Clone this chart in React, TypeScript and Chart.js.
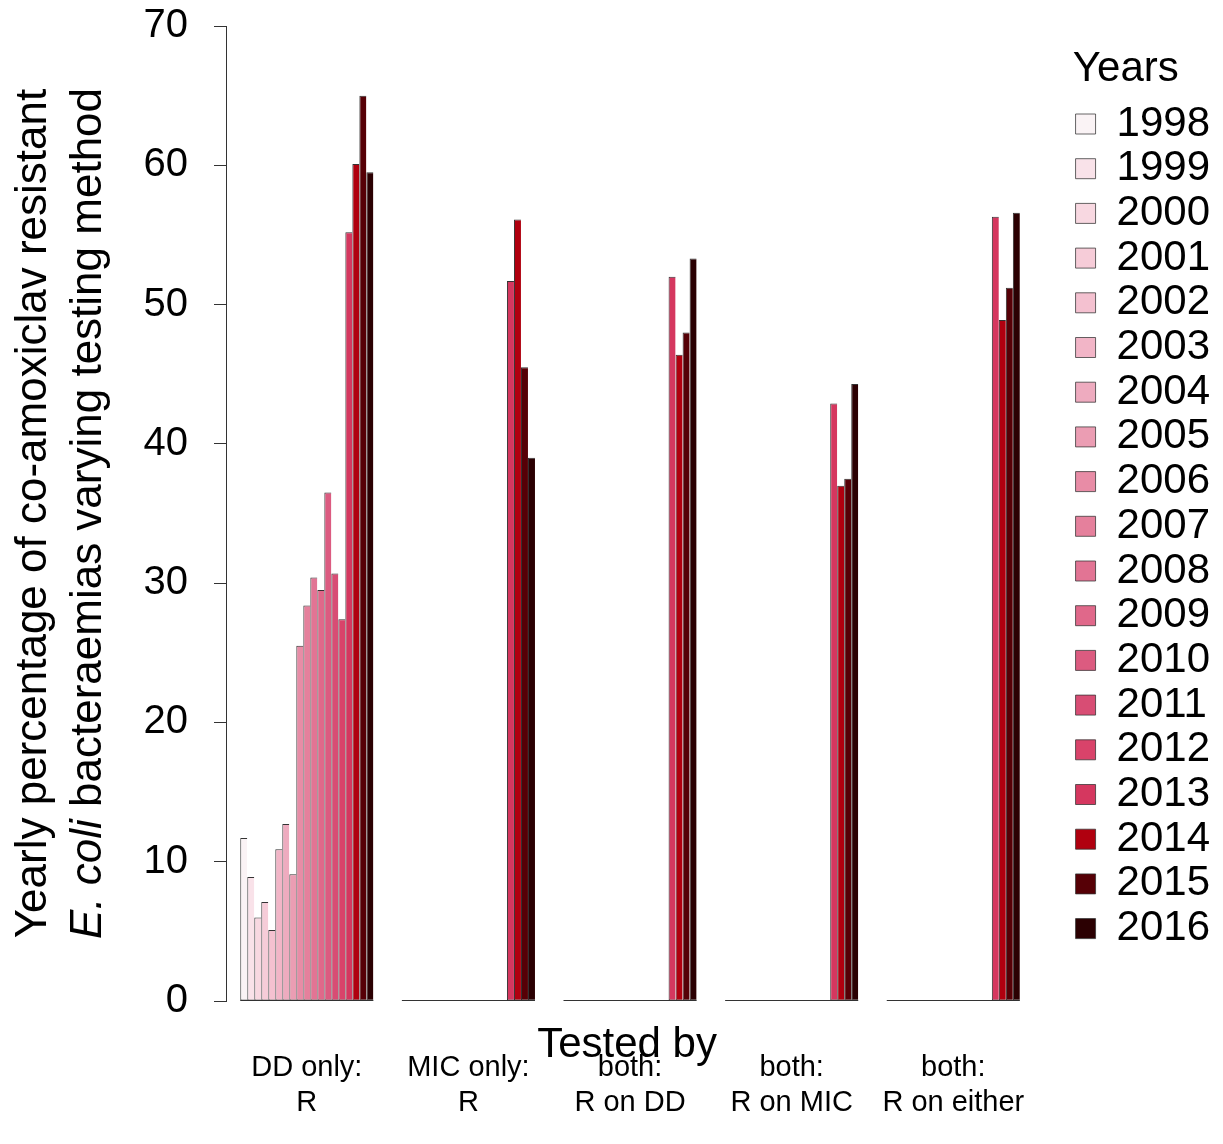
import React, { useEffect, useRef } from "react";
import { Chart, registerables } from "chart.js";

Chart.register(...registerables);

const FONT = "'Liberation Sans', Arial, Helvetica, sans-serif";

// Groups (x categories)
const groupLabels: string[][] = [
  ["DD only:", "R"],
  ["MIC only:", "R"],
  ["both:", "R on DD"],
  ["both:", "R on MIC"],
  ["both:", "R on either"],
];

// Years (one dataset per year)
const years = [
  "1998", "1999", "2000", "2001", "2002", "2003", "2004", "2005", "2006", "2007",
  "2008", "2009", "2010", "2011", "2012", "2013", "2014", "2015", "2016",
];

const yearColors = [
  "#faf3f5", "#f9e2e9", "#f8d8e1", "#f6ccd8", "#f4c1d0", "#f2b5c7", "#eeabbf",
  "#eb9db3", "#e88ca6", "#e5809c", "#e27494", "#e0688a", "#dc5b80", "#d84d74",
  "#d9436a", "#d5375f", "#b0000f", "#560006", "#2b0002",
];

// Yearly % values per testing-method group (1998..2016)
const ddOnly = [11.7, 8.9, 6.0, 7.1, 5.1, 10.9, 12.7, 9.1, 25.5, 28.4, 30.4, 29.5, 36.5, 30.7, 27.4, 55.2, 60.1, 65.0, 59.5];
const micOnly = [0, 0, 0, 0, 0, 0, 0, 0, 0, 0, 0, 0, 0, 0, 0, 51.7, 56.1, 45.5, 39.0];
const bothRonDD = [0, 0, 0, 0, 0, 0, 0, 0, 0, 0, 0, 0, 0, 0, 0, 52.0, 46.4, 48.0, 53.3];
const bothRonMIC = [0, 0, 0, 0, 0, 0, 0, 0, 0, 0, 0, 0, 0, 0, 0, 42.9, 37.0, 37.5, 44.3];
const bothRonEither = [0, 0, 0, 0, 0, 0, 0, 0, 0, 0, 0, 0, 0, 0, 0, 56.3, 48.9, 51.2, 56.6];

const yMin = 0;
const yMax = 70;
const yStep = 10;

const yTitleLine1 = "Yearly percentage of co-amoxiclav resistant";
const yTitleItalic = "E. coli";
const yTitleRest = " bacteraemias varying testing method";
const xTitle = "Tested by";
const legendTitle = "Years";

const annotationPlugin = {
  id: "annotations",
  beforeDatasetsDraw(chart: any) {
    const { ctx, scales } = chart;
    const y0 = scales.y.getPixelForValue(0);
    const first = chart.getDatasetMeta(0).data;
    const last = chart.getDatasetMeta(years.length - 1).data;
    ctx.save();
    ctx.strokeStyle = "#333";
    ctx.lineWidth = 1;
    for (let i = 0; i < groupLabels.length; i++) {
      const a = first[i];
      const b = last[i];
      if (!a || !b) continue;
      ctx.beginPath();
      ctx.moveTo(a.x - a.width / 2, Math.round(y0) - 0.5);
      ctx.lineTo(b.x + b.width / 2, Math.round(y0) - 0.5);
      ctx.stroke();
    }
    ctx.restore();
  },
  afterDraw(chart: any) {
    const { ctx, chartArea, scales } = chart;
    ctx.save();
    ctx.fillStyle = "#000";
    // x title
    ctx.font = `42px ${FONT}`;
    ctx.textAlign = "center";
    ctx.textBaseline = "alphabetic";
    ctx.fillText(xTitle, (chartArea.left + chartArea.right) / 2 - 3, scales.x.top + 56);
    // y title (rotated, two lines)
    const cy = (chartArea.top + chartArea.bottom) / 2;
    ctx.translate(0, cy);
    ctx.rotate(-Math.PI / 2);
    ctx.font = `44px ${FONT}`;
    ctx.textAlign = "center";
    ctx.fillText(yTitleLine1, 0, 46);
    ctx.textAlign = "left";
    ctx.font = `italic 44px ${FONT}`;
    const wI = ctx.measureText(yTitleItalic).width;
    ctx.font = `44px ${FONT}`;
    const wR = ctx.measureText(yTitleRest).width;
    const start = -(wI + wR) / 2;
    ctx.font = `italic 44px ${FONT}`;
    ctx.fillText(yTitleItalic, start, 101);
    ctx.font = `44px ${FONT}`;
    ctx.fillText(yTitleRest, start + wI, 101);
    ctx.restore();
  },
};

export default function App() {
  const canvasRef = useRef<HTMLCanvasElement | null>(null);

  useEffect(() => {
    document.body.style.margin = "0";
    const canvas = canvasRef.current;
    if (!canvas) return;
    const groups = [ddOnly, micOnly, bothRonDD, bothRonMIC, bothRonEither];
    const datasets = years.map((yr, yi) => ({
      label: yr,
      data: groups.map((g) => g[yi]),
      backgroundColor: yearColors[yi],
      borderColor: "#333333",
      borderWidth: { left: 1, top: 1, right: 0, bottom: 1 },
      borderSkipped: false,
      barPercentage: 1.0,
      categoryPercentage: 133 / 161.5,
    }));

    const chart = new Chart(canvas, {
      type: "bar",
      data: { labels: groupLabels, datasets },
      plugins: [annotationPlugin],
      options: {
        responsive: false,
        animation: false,
        devicePixelRatio: 1,
        layout: { padding: { top: 2, left: 0, right: 3, bottom: 0 } },
        plugins: {
          tooltip: { enabled: false },
          title: { display: false },
          legend: {
            display: true,
            position: "right",
            align: "start",
            title: {
              display: true,
              text: legendTitle,
              position: "start",
              color: "#000",
              font: { size: 42, family: FONT },
              padding: { top: 46, bottom: 1.9 },
            },
            labels: {
              boxWidth: 20,
              boxHeight: 20,
              padding: 2.7,
              color: "#000",
              font: { size: 42, family: FONT },
            },
          },
        },
        scales: {
          x: {
            type: "category",
            offset: true,
            grid: { display: false, drawTicks: false },
            border: { display: false },
            ticks: {
              color: "#000",
              font: { size: 29, family: FONT, lineHeight: 1.2 },
              padding: 49.5,
              maxRotation: 0,
              autoSkip: false,
            },
            afterFit: (s: any) => {
              s.height = 143;
            },
          },
          y: {
            type: "linear",
            position: "left",
            min: yMin,
            max: yMax,
            ticks: {
              stepSize: yStep,
              color: "#000",
              font: { size: 40, family: FONT },
              padding: 26,
            },
            grid: {
              drawOnChartArea: false,
              drawTicks: true,
              tickLength: 12,
              color: "#333",
            },
            border: { display: true, color: "#333", width: 1 },
            afterFit: (s: any) => {
              s.width = 226;
              s.paddingTop = 26;
              s.paddingBottom = 24;
            },
          },
          gap: {
            type: "linear",
            position: "right",
            display: true,
            grid: { display: false, drawTicks: false },
            border: { display: false },
            ticks: { display: false },
            afterFit: (s: any) => {
              s.width = 38.75;
            },
          },
        },
      },
    } as any);
    return () => chart.destroy();
  }, []);

  return (
    <div style={{ width: 1223, height: 1144, background: "#fff" }}>
      <canvas ref={canvasRef} width={1223} height={1144} style={{ display: "block" }} />
    </div>
  );
}
